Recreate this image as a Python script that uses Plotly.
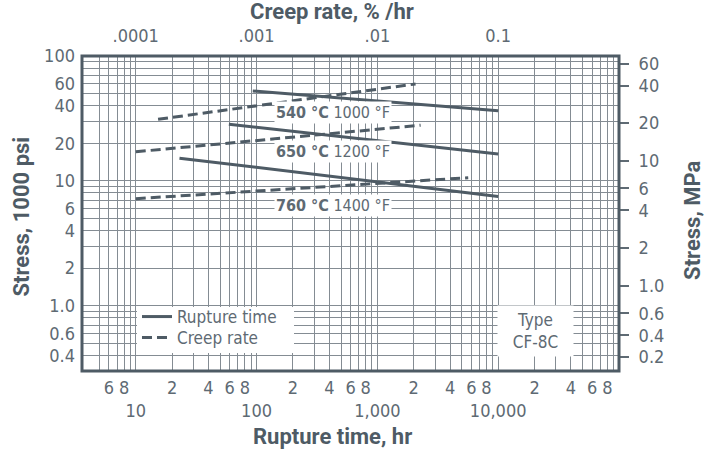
import plotly.graph_objects as go
import numpy as np

# Rupture-time curves: stress (1000 psi) against rupture time (hr)
rupture_540_hr = [93, 10000]
rupture_540_ksi = [52.5, 36.5]
rupture_650_hr = [59, 10000]
rupture_650_ksi = [28.4, 16.4]
rupture_760_hr = [23, 10000]
rupture_760_ksi = [15.2, 7.5]

# Creep-rate curves: stress (1000 psi) against creep rate (% /hr)
creep_540_rate = [0.000153, 0.0207]
creep_540_ksi = [31.1, 59.7]
creep_650_rate = [0.0001, 0.0228]
creep_650_ksi = [17.1, 27.9]
creep_760_rate = [0.0001, 0.0565]
creep_760_ksi = [7.2, 10.6]

temp_labels = ["<b>540 °C</b> 1000 °F", "<b>650 °C</b> 1200 °F", "<b>760 °C</b> 1400 °F"]
temp_label_ksi = [35.0, 17.3, 6.4]
temp_label_hr = [139, 139, 139]

# Bottom axis ticks (rupture time)
time_tickvals = [6, 8, 10, 20, 40, 60, 80, 100, 200, 400, 600, 800, 1000,
                 2000, 4000, 6000, 8000, 10000, 20000, 40000, 60000, 80000]
time_ticktext = ["6", "8", "<br>10", "2", "4", "6", "8", "<br>100", "2", "4", "6", "8",
                 "<br>1,000", "2", "4", "6", "8", "<br>10,000", "2", "4", "6", "8"]

# Top axis ticks (creep rate)
creep_tickvals = [0.0001, 0.001, 0.01, 0.1]
creep_ticktext = [".0001", ".001", ".01", "0.1"]

# Left axis ticks (1000 psi)
ksi_tickvals = [100, 60, 40, 20, 10, 6, 4, 2, 1, 0.6, 0.4]
ksi_ticktext = ["100", "60", "40", "20", "10", "6", "4", "2", "1.0", "0.6", "0.4"]

# Right axis ticks (MPa scale)
mpa_tickvals = [60, 40, 20, 10, 6, 4, 2, 1, 0.6, 0.4, 0.27]
mpa_ticktext = ["60", "40", "20", "10", "6", "4", "2", "1.0", "0.6", "0.4", "0.2"]

# Log grid positions
time_grid = [5, 6, 7, 8, 9] + [d * 10 ** k for k in range(1, 5) for d in range(1, 10)]
ksi_grid = [d * 10 ** k for k in (-1, 0, 1) for d in range(1, 10) if d * 10 ** k >= 0.4]

x_range = [np.log10(3.59), 5.0]
y_range = [np.log10(0.3), 2.0]
ksi_to_mpa_scale = 0.6895

LINE = "#4e5b65"
GRID = "#848c93"
TEXT = "#5e6a73"
TITLE = "#4e5b65"
NARROW = "DejaVu Sans Condensed, Roboto Condensed, Roboto"
BOLD = "Roboto"

fig = go.Figure()

line_style = dict(color=LINE, width=3)
dash_style = dict(color=LINE, width=3, dash="10px,5px")

fig.add_trace(go.Scatter(x=rupture_540_hr, y=rupture_540_ksi, mode="lines", line=line_style,
                         name="Rupture time", showlegend=True, legend="legend"))
fig.add_trace(go.Scatter(x=creep_540_rate, y=creep_540_ksi, mode="lines", line=dash_style,
                         name="Creep rate", showlegend=True, legend="legend2", xaxis="x2"))
for t, s in [(rupture_650_hr, rupture_650_ksi), (rupture_760_hr, rupture_760_ksi)]:
    fig.add_trace(go.Scatter(x=t, y=s, mode="lines", line=line_style, showlegend=False))
for r, s in [(creep_650_rate, creep_650_ksi), (creep_760_rate, creep_760_ksi)]:
    fig.add_trace(go.Scatter(x=r, y=s, mode="lines", line=dash_style, showlegend=False, xaxis="x2"))
# Empty trace so the MPa axis is drawn
fig.add_trace(go.Scatter(x=[None], y=[None], yaxis="y2", mode="lines", showlegend=False,
                         hoverinfo="skip"))

# Temperature labels
for txt, t, s in zip(temp_labels, temp_label_hr, temp_label_ksi):
    fig.add_annotation(x=np.log10(t), y=np.log10(s), xref="x", yref="y", text=txt,
                       xanchor="left", yanchor="middle", showarrow=False, bgcolor="white",
                       borderpad=1, font=dict(family=NARROW, size=16, color=TEXT))

# White panel behind the legend
fig.add_shape(type="rect", xref="paper", yref="paper", x0=0.1024, x1=0.3948, y0=0.0572, y1=0.2032,
              fillcolor="white", line=dict(width=0), layer="above")

# Alloy type box
fig.add_annotation(x=0.8445, y=0.127, xref="paper", yref="paper", text="Type<br>CF-8C",
                   xanchor="center", yanchor="middle",
                   showarrow=False, bgcolor="white", width=73, height=48, align="center",
                   font=dict(family=NARROW, size=17, color=TEXT))

# Axis titles
fig.add_annotation(x=0.4656, y=-0.207, xref="paper", yref="paper", text="<b>Rupture time, hr</b>",
                   xanchor="center", yanchor="middle", showarrow=False,
                   font=dict(family=BOLD, size=22, color=TITLE))
fig.add_annotation(x=0.4656, y=1.14, xref="paper", yref="paper", text="<b>Creep rate, % /hr</b>",
                   xanchor="center", yanchor="middle", showarrow=False,
                   font=dict(family=BOLD, size=22, color=TITLE))
fig.add_annotation(x=-0.112, y=0.49, xref="paper", yref="paper", text="<b>Stress, 1000 psi</b>",
                   textangle=-90, xanchor="center", yanchor="middle", showarrow=False,
                   font=dict(family=BOLD, size=22, color=TITLE))
fig.add_annotation(x=1.138, y=0.48, xref="paper", yref="paper", text="<b>Stress, MPa</b>",
                   textangle=-90, xanchor="center", yanchor="middle", showarrow=False,
                   font=dict(family=BOLD, size=22, color=TITLE))

# Plot frame
fig.add_shape(type="rect", xref="paper", yref="paper", x0=0, x1=1, y0=0, y1=1,
              line=dict(color=LINE, width=3), layer="above")

grid_common = dict(showgrid=True, gridcolor=GRID, gridwidth=1.2, zeroline=False, automargin=False)
legend_common = dict(x=0.1024, xanchor="left", yanchor="middle", bgcolor="rgba(0,0,0,0)",
                     borderwidth=0, font=dict(family=NARROW, size=17, color=TEXT))

fig.update_layout(
    width=711, height=450,
    margin=dict(l=82, r=92, t=56, b=79),
    plot_bgcolor="white", paper_bgcolor="white",
    xaxis=dict(type="log", range=x_range, tickmode="array", tickvals=time_tickvals,
               ticktext=time_ticktext, ticks="", ticklabelstandoff=4, tickangle=0,
               tickfont=dict(family=NARROW, size=18, color=TEXT),
               minor=dict(tickmode="array", tickvals=time_grid, showgrid=True,
                          gridcolor=GRID, gridwidth=1.2, ticks=""),
               **grid_common),
    xaxis2=dict(type="log", range=[x_range[0] - 5, x_range[1] - 5], overlaying="x", side="top",
                tickmode="array", tickvals=creep_tickvals, ticktext=creep_ticktext, ticks="",
                showgrid=False, zeroline=False, ticklabelstandoff=9, tickangle=0, automargin=False,
                tickfont=dict(family=NARROW, size=18, color=TEXT)),
    yaxis=dict(type="log", range=y_range, tickmode="array", tickvals=ksi_tickvals,
               ticktext=ksi_ticktext, ticks="", ticklabelstandoff=6,
               tickfont=dict(family=NARROW, size=18, color=TEXT),
               minor=dict(tickmode="array", tickvals=ksi_grid, showgrid=True,
                          gridcolor=GRID, gridwidth=1.2, ticks=""),
               **grid_common),
    yaxis2=dict(type="log", overlaying="y", side="right", anchor="x",
                range=[y_range[0] + np.log10(ksi_to_mpa_scale), y_range[1] + np.log10(ksi_to_mpa_scale)],
                tickmode="array", tickvals=mpa_tickvals, ticktext=mpa_ticktext,
                ticks="outside", ticklen=9, tickwidth=1.5, tickcolor=TEXT, automargin=False,
                showgrid=False, zeroline=False, ticklabelstandoff=6,
                tickfont=dict(family=NARROW, size=18, color=TEXT)),
    legend=dict(y=0.1714, **legend_common),
    legend2=dict(y=0.1048, **legend_common),
)

fig.write_html("out.html")
